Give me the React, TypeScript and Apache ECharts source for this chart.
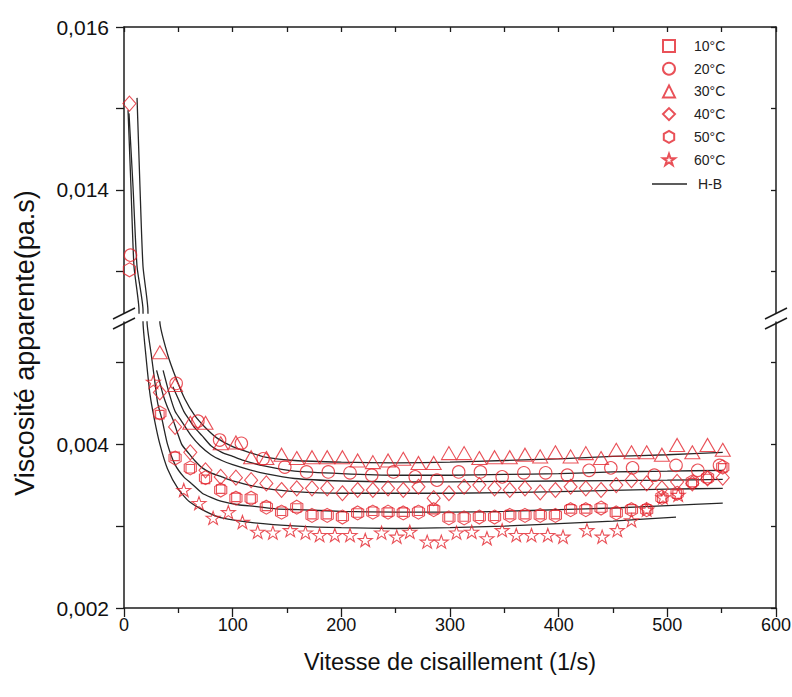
import React, { useEffect, useRef } from 'react';
import * as echarts from 'echarts';

// ---------- data ----------
// shear rates (1/s) shared by the 30°C, 40°C, 50°C and 10°C measurements
const shearGrid = [33, 47, 61, 75, 89, 103, 117, 131, 145, 159, 173, 187, 201, 215, 229, 243, 257, 271, 285, 299,
  313, 327, 341, 355, 369, 383, 397, 411, 425, 439, 453, 467, 481, 495, 509, 523, 537, 551];

const squareShear = shearGrid;
const squareVisc = [0.00436, 0.00385, 0.00370, 0.00357, 0.00345, 0.00335, 0.00333, 0.00324, 0.00318, 0.00322,
  0.00314, 0.00314, 0.00312, 0.00316, 0.00318, 0.00317, 0.00317, 0.00318, 0.00320, 0.00311,
  0.00311, 0.00312, 0.00312, 0.00314, 0.00314, 0.00314, 0.00314, 0.00321, 0.00321, 0.00322,
  0.00317, 0.00321, 0.00321, 0.00334, 0.00339, 0.00353, 0.00358, 0.00371];

const circleShear = [6, 48, 68, 88, 108, 128, 148, 168, 188, 208, 228, 248, 268, 288, 308, 328, 348, 368, 388, 408,
  428, 448, 468, 488, 508, 528, 548];
const circleVisc = [0.0132, 0.00474, 0.00428, 0.00405, 0.00401, 0.00382, 0.00372, 0.00366, 0.00366, 0.00365,
  0.00362, 0.00366, 0.00360, 0.00356, 0.00366, 0.00366, 0.00360, 0.00365, 0.00365, 0.00362,
  0.00368, 0.00371, 0.00371, 0.00362, 0.00374, 0.00368, 0.00374];

const triangleShear = shearGrid;
const triangleVisc = [0.00512, 0.00472, 0.00426, 0.00426, 0.00401, 0.00402, 0.00384, 0.00383, 0.00387, 0.00383,
  0.00384, 0.00384, 0.00384, 0.00380, 0.00378, 0.00380, 0.00382, 0.00377, 0.00377, 0.00389,
  0.00389, 0.00383, 0.00384, 0.00384, 0.00387, 0.00385, 0.00390, 0.00385, 0.00389, 0.00383,
  0.00393, 0.00390, 0.00390, 0.00387, 0.00399, 0.00390, 0.00399, 0.00393];

const diamondShear = [5, ...shearGrid];
const diamondVisc = [0.01506, 0.00463, 0.00421, 0.00390, 0.00368, 0.00360, 0.00359, 0.00356, 0.00352, 0.00344, 0.00346,
  0.00346, 0.00346, 0.00340, 0.00344, 0.00344, 0.00346, 0.00344, 0.00348, 0.00334, 0.00340,
  0.00348, 0.00350, 0.00346, 0.00344, 0.00346, 0.00341, 0.00344, 0.00348, 0.00346, 0.00344,
  0.00350, 0.00356, 0.00352, 0.00346, 0.00354, 0.00352, 0.00358, 0.00359];

const hexShear = [5, ...shearGrid];
const hexVisc = [0.01302, 0.00438, 0.00383, 0.00371, 0.00359, 0.00344, 0.00334, 0.00334, 0.00323, 0.00317, 0.00323,
  0.00313, 0.00313, 0.00311, 0.00316, 0.00317, 0.00317, 0.00316, 0.00317, 0.00320, 0.00310,
  0.00310, 0.00311, 0.00311, 0.00313, 0.00313, 0.00313, 0.00313, 0.00320, 0.00320, 0.00322,
  0.00316, 0.00320, 0.00320, 0.00335, 0.00340, 0.00354, 0.00359, 0.00372];

const starShear = [27, 55, 69, 82, 96, 109, 123, 137, 153, 167, 180, 194, 208, 222, 237, 251, 263, 279, 292, 306,
  320, 334, 348, 361, 375, 390, 404, 426, 440, 454, 467, 481, 496, 510];
const starVisc = [0.00476, 0.00344, 0.00328, 0.00310, 0.00317, 0.00305, 0.00293, 0.00292, 0.00295, 0.00292,
  0.00289, 0.00289, 0.00289, 0.00283, 0.00292, 0.00287, 0.00293, 0.00281, 0.00281, 0.00292,
  0.00293, 0.00285, 0.00295, 0.00289, 0.00289, 0.00289, 0.00287, 0.00295, 0.00287, 0.00295,
  0.00307, 0.00320, 0.00335, 0.00338];

// Herschel-Bulkley fitted curves (traced points)
const hbShear1 = [12, 14.7, 17.5, 22, 33, 40, 48, 56, 65, 75, 86, 100, 115, 130, 157, 200, 250, 300, 350, 400, 450, 500, 551];
const hbVisc1 = [0.01513, 0.01404, 0.01306, 0.01253, 0.00549, 0.0051, 0.0048, 0.00455, 0.00435, 0.0042, 0.00407, 0.00397,
  0.0039, 0.00384, 0.0038, 0.00378, 0.00377, 0.00378, 0.0038, 0.00382, 0.00385, 0.00387, 0.0039];
const hbShear2 = [45, 50, 55, 60, 65, 72, 80, 90, 100, 110, 130, 157, 200, 250, 300, 350, 400, 450, 500, 551];
const hbVisc2 = [0.0047, 0.00455, 0.0044, 0.0043, 0.0042, 0.0041, 0.00398, 0.0039, 0.00385, 0.0038, 0.00373, 0.00367,
  0.00364, 0.00362, 0.00362, 0.00363, 0.00364, 0.00366, 0.00367, 0.00368];
const hbShear3 = [36, 42, 47, 52, 62, 70, 80, 90, 100, 115, 130, 157, 200, 250, 300, 400, 500, 551];
const hbVisc3 = [0.0049, 0.0046, 0.0044, 0.0043, 0.0041, 0.00398, 0.00387, 0.0038, 0.00375, 0.00369, 0.00364, 0.00358,
  0.00355, 0.00354, 0.00354, 0.00355, 0.00356, 0.00357];
const hbShear4 = [30, 33, 36, 40, 45, 53, 60, 65, 72, 80, 90, 100, 115, 130, 157, 200, 300, 400, 500, 551];
const hbVisc4 = [0.0049, 0.00475, 0.0046, 0.00445, 0.0043, 0.004, 0.00388, 0.0038, 0.00371, 0.00365, 0.0036, 0.00355,
  0.0035, 0.00346, 0.00342, 0.0034, 0.0034, 0.00342, 0.00345, 0.00346];
const hbShear5 = [4.6, 8.3, 12, 17.5, 21.2, 25, 28, 31, 35, 40, 47, 55, 62, 72, 80, 90, 105, 120, 140, 160, 200, 250,
  300, 350, 400, 450, 500, 551];
const hbVisc5 = [0.01494, 0.01404, 0.01306, 0.01253, 0.00549, 0.0051, 0.0048, 0.0045, 0.0043, 0.004, 0.00375, 0.0036,
  0.00352, 0.0034, 0.00335, 0.0033, 0.00326, 0.00324, 0.00321, 0.0032, 0.00318, 0.00317, 0.00317, 0.00318, 0.0032,
  0.00322, 0.00325, 0.00328];
const hbShear6 = [3.7, 6.4, 9.2, 13.8, 17.5, 20, 24, 28, 33, 40, 50, 60, 75, 90, 120, 160, 200, 250, 300, 350, 400, 450, 508];
const hbVisc6 = [0.01498, 0.01404, 0.01306, 0.01253, 0.00549, 0.0051, 0.0046, 0.0043, 0.004, 0.0037, 0.00345, 0.0033,
  0.00318, 0.0031, 0.00304, 0.003, 0.00298, 0.00297, 0.00298, 0.003, 0.00303, 0.00306, 0.00311];

const legendNames = ['10°C', '20°C', '30°C', '40°C', '50°C', '60°C'];
const fitName = 'H-B';
const upperTicks = [0.013, 0.014, 0.015, 0.016];
const upperLabels = [0.014, 0.016];
const lowerTicks = [0.002, 0.003, 0.004, 0.005];
const lowerLabels = [0.002, 0.004];

// ---------- styling ----------
const RED = '#e3262e';
const AX = '#1c1c1c';
const FONT = '"Liberation Sans", Arial, sans-serif';
const UPPER_MIN = 0.01249;
const UPPER_MAX = 0.016;
const LOWER_MIN = 0.002;
const LOWER_MAX = 0.00549;
const HEX = 'path://M8.66,0 L17.32,5 L17.32,15 L8.66,20 L0,15 L0,5 Z';
const STAR = 'path://M50,2 L61.8,36 L97.6,36 L68.6,57 L79.4,91 L50,70 L20.6,91 L31.4,57 L2.4,36 L38.2,36 Z';

const fmt = (v: number) => v.toFixed(3).replace('.', ',');
const pairs = (xs: number[], ys: number[]) => xs.map((x, i) => [x, ys[i]]);

function buildOption() {
  const temps = [
    { name: legendNames[0], symbol: 'rect', size: 8.5, xs: squareShear, ys: squareVisc },
    { name: legendNames[1], symbol: 'circle', size: 12.5, xs: circleShear, ys: circleVisc },
    { name: legendNames[2], symbol: 'triangle', size: [15, 13], xs: triangleShear, ys: triangleVisc },
    { name: legendNames[3], symbol: 'diamond', size: [13, 15], xs: diamondShear, ys: diamondVisc },
    { name: legendNames[4], symbol: HEX, size: 14, xs: hexShear, ys: hexVisc },
    { name: legendNames[5], symbol: STAR, size: 14, xs: starShear, ys: starVisc },
  ];
  const curves = [
    pairs(hbShear1, hbVisc1), pairs(hbShear2, hbVisc2), pairs(hbShear3, hbVisc3),
    pairs(hbShear4, hbVisc4), pairs(hbShear5, hbVisc5), pairs(hbShear6, hbVisc6),
  ];

  const series: any[] = [];
  [0, 1].forEach((g) => {
    curves.forEach((c) => {
      series.push({
        type: 'line', name: fitName, xAxisIndex: g, yAxisIndex: g * 2, data: c,
        symbol: 'none', smooth: 0.2, clip: true, silent: true, z: 2,
        lineStyle: { color: '#262626', width: 1.3 },
        itemStyle: { color: '#262626' },
      });
    });
    temps.forEach((t) => {
      const pts = pairs(t.xs, t.ys).filter((p) => (g === 0 ? p[1] > UPPER_MIN : p[1] < LOWER_MAX));
      series.push({
        type: 'scatter', name: t.name, xAxisIndex: g, yAxisIndex: g * 2, data: pts,
        symbol: t.symbol, symbolSize: t.size, symbolKeepAspect: true, clip: true, z: 3,
        itemStyle: { color: 'rgba(255,255,255,0)', borderColor: RED, borderWidth: 1.1 },
      });
    });
  });

  const axLine = { show: true, onZero: false, lineStyle: { color: AX, width: 1.5 } };
  const tickStyle = { color: AX, width: 1.3 };
  const xLabelStyle = { color: '#111', fontSize: 18, fontFamily: FONT };
  const yLabelStyle = { color: '#111', fontSize: 21, fontFamily: FONT };
  const legendText = { fontSize: 14, color: '#222', fontFamily: FONT, lineHeight: 14 };

  return {
    animation: false,
    backgroundColor: '#fff',
    textStyle: { fontFamily: FONT },
    grid: [
      { left: 124, right: 16, top: 27, height: 286, outerBoundsMode: 'none' },
      { left: 124, right: 16, top: 322, height: 286, outerBoundsMode: 'none' },
    ],
    xAxis: [
      {
        gridIndex: 0, type: 'value', position: 'top', min: 0, max: 600, interval: 50,
        axisLine: axLine, axisTick: { show: true, inside: true, length: 5, lineStyle: tickStyle },
        axisLabel: { show: false }, splitLine: { show: false },
      },
      {
        gridIndex: 1, type: 'value', position: 'bottom', min: 0, max: 600, interval: 100,
        axisLine: axLine, axisTick: { show: true, inside: false, length: 9, lineStyle: tickStyle },
        minorTick: { show: true, splitNumber: 2, length: 5, lineStyle: tickStyle },
        axisLabel: { ...xLabelStyle, margin: 8 }, splitLine: { show: false }, minorSplitLine: { show: false },
      },
    ],
    yAxis: [
      {
        gridIndex: 0, type: 'value', position: 'left', min: UPPER_MIN, max: UPPER_MAX,
        axisLine: axLine, axisTick: { show: true, inside: false, length: 8, lineStyle: tickStyle, customValues: upperTicks },
        axisLabel: { ...yLabelStyle, margin: 15, customValues: upperLabels, formatter: fmt }, splitLine: { show: false },
      },
      {
        gridIndex: 0, type: 'value', position: 'right', min: UPPER_MIN, max: UPPER_MAX,
        axisLine: axLine, axisTick: { show: true, inside: true, length: 5, lineStyle: tickStyle, customValues: upperTicks },
        axisLabel: { show: false }, splitLine: { show: false },
      },
      {
        gridIndex: 1, type: 'value', position: 'left', min: LOWER_MIN, max: LOWER_MAX,
        axisLine: axLine, axisTick: { show: true, inside: false, length: 8, lineStyle: tickStyle, customValues: lowerTicks },
        axisLabel: { ...yLabelStyle, margin: 15, customValues: lowerLabels, formatter: fmt }, splitLine: { show: false },
      },
      {
        gridIndex: 1, type: 'value', position: 'right', min: LOWER_MIN, max: LOWER_MAX,
        axisLine: axLine, axisTick: { show: true, inside: true, length: 5, lineStyle: tickStyle, customValues: lowerTicks },
        axisLabel: { show: false }, splitLine: { show: false },
      },
    ],
    legend: [
      {
        data: legendNames, orient: 'vertical', left: 657, top: 34, padding: 5,
        itemWidth: 12, itemHeight: 12, itemGap: 8.7, selectedMode: false,
        textStyle: { ...legendText, padding: [0, 0, 0, 14] },
      },
      {
        data: [{ name: fitName, icon: 'rect' }], orient: 'vertical', left: 647, top: 172, padding: 5,
        itemWidth: 35, itemHeight: 1.6, selectedMode: false,
        textStyle: { ...legendText, padding: [0, 0, 0, 6] },
      },
    ],
    graphic: [
      {
        type: 'text', x: 25, y: 343, rotation: Math.PI / 2,
        style: { text: 'Viscosité apparente(pa.s)', fontSize: 27, fontFamily: FONT, fill: '#111', align: 'center', verticalAlign: 'middle' },
      },
      {
        type: 'text', x: 450, y: 662,
        style: { text: 'Vitesse de cisaillement (1/s)', fontSize: 23.5, fontFamily: FONT, fill: '#111', align: 'center', verticalAlign: 'middle' },
      },
      { type: 'line', shape: { x1: 113, y1: 319, x2: 135, y2: 308 }, style: { stroke: AX, lineWidth: 1.4 } },
      { type: 'line', shape: { x1: 113, y1: 329, x2: 135, y2: 318 }, style: { stroke: AX, lineWidth: 1.4 } },
      { type: 'line', shape: { x1: 765, y1: 319, x2: 787, y2: 308 }, style: { stroke: AX, lineWidth: 1.4 } },
      { type: 'line', shape: { x1: 765, y1: 329, x2: 787, y2: 318 }, style: { stroke: AX, lineWidth: 1.4 } },
    ],
    series,
  };
}

export default function App() {
  const ref = useRef<HTMLDivElement>(null);
  useEffect(() => {
    if (!ref.current) return;
    const chart = echarts.init(ref.current, null, { renderer: 'svg' });
    chart.setOption(buildOption() as any);
    return () => chart.dispose();
  }, []);
  return (
    <div
      ref={ref}
      style={{ position: 'fixed', left: 0, top: 0, width: 792, height: 697, background: '#fff' }}
    />
  );
}
